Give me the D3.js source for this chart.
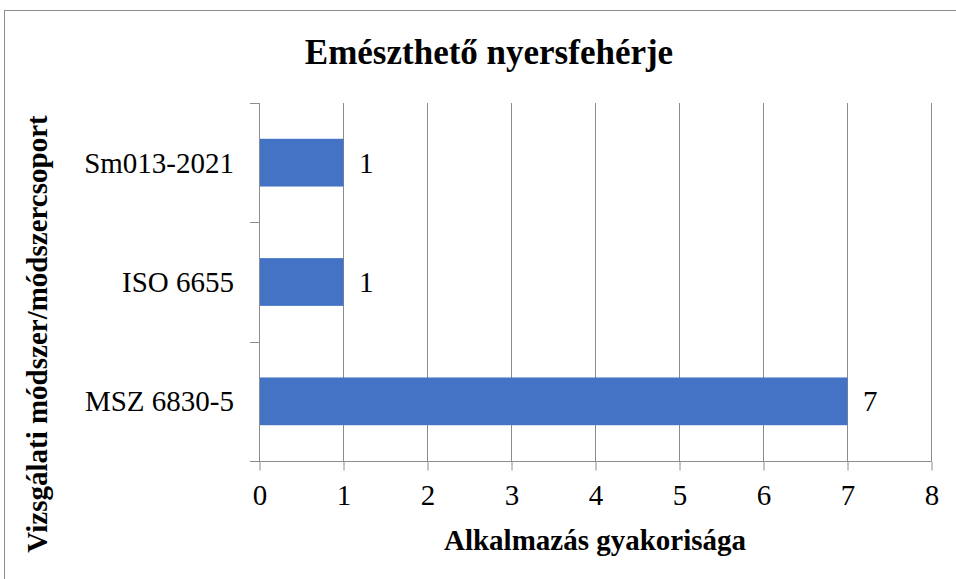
<!DOCTYPE html>
<html>
<head>
<meta charset="utf-8">
<script src="https://cdn.jsdelivr.net/npm/d3@7"></script>
<style>
  body { margin: 0; background: #fff; }
  svg text { font-family: "Liberation Serif", "Times New Roman", serif; }
</style>
</head>
<body>
<div id="chart"></div>
<script>
// Categories listed bottom-to-top as in the source (Excel reverses order)
const categories = ['MSZ 6830-5', 'ISO 6655', 'Sm013-2021'];
const counts = [7, 1, 1];
const xTicks = [0, 1, 2, 3, 4, 5, 6, 7, 8];

const width = 956, height = 579;
const plot = { left: 259, right: 931, top: 103, bottom: 461 };

const svg = d3.select('#chart').append('svg')
  .attr('width', width)
  .attr('height', height);

// Outer chart border (only left/top edges fall inside the picture)
svg.append('rect')
  .attr('x', 4.5).attr('y', 10.5)
  .attr('width', 1000).attr('height', 1000)
  .attr('fill', 'none')
  .attr('stroke', '#8c8c8c');

const x = d3.scaleLinear().domain([0, 8]).range([plot.left, plot.right]);
// top-to-bottom order: reverse the list
const y = d3.scaleBand()
  .domain(categories.slice().reverse())
  .range([plot.top, plot.bottom])
  .paddingInner(0.6)
  .paddingOuter(0.3);

// vertical gridlines
svg.append('g')
  .selectAll('line')
  .data(xTicks.filter(d => d > 0))
  .join('line')
  .attr('x1', d => x(d) + 0.5).attr('x2', d => x(d) + 0.5)
  .attr('y1', plot.top).attr('y2', plot.bottom)
  .attr('stroke', '#8c8c8c');

// bars
svg.append('g')
  .selectAll('rect')
  .data(categories)
  .join('rect')
  .attr('x', x(0) + 0.5)
  .attr('y', d => y(d))
  .attr('width', (d, i) => x(counts[i]) - x(0))
  .attr('height', y.bandwidth())
  .attr('fill', '#4472c4');

// data labels
svg.append('g')
  .selectAll('text')
  .data(categories)
  .join('text')
  .attr('x', (d, i) => x(counts[i]) + 16)
  .attr('y', d => y(d) + y.bandwidth() / 2)
  .attr('dy', '0.35em')
  .attr('font-size', 29)
  .text((d, i) => counts[i]);

// x axis
const xAxis = svg.append('g')
  .attr('transform', `translate(0.5,${plot.bottom + 0.5})`)
  .call(d3.axisBottom(x).tickValues(xTicks).tickSize(9).tickPadding(14));
xAxis.attr('font-family', null);
xAxis.select('.domain').attr('d', `M${plot.left - 9 - 0.5},0H${plot.right}`);
xAxis.selectAll('line, path').attr('stroke', '#8c8c8c');
xAxis.selectAll('text').attr('font-size', 29).attr('fill', '#000');

// y axis: ticks at band boundaries
const step = (plot.bottom - plot.top) / categories.length;
const yAxisG = svg.append('g');
yAxisG.append('line')
  .attr('x1', plot.left + 0.5).attr('x2', plot.left + 0.5)
  .attr('y1', plot.top).attr('y2', plot.bottom)
  .attr('stroke', '#8c8c8c');
yAxisG.selectAll('.ytick')
  .data(d3.range(categories.length + 1))
  .join('line')
  .attr('class', 'ytick')
  .attr('x1', plot.left - 9).attr('x2', plot.left + 0.5)
  .attr('y1', i => Math.round(plot.top + i * step) + 0.5)
  .attr('y2', i => Math.round(plot.top + i * step) + 0.5)
  .attr('stroke', '#8c8c8c');
yAxisG.selectAll('.ylabel')
  .data(categories)
  .join('text')
  .attr('class', 'ylabel')
  .attr('x', plot.left - 25)
  .attr('y', d => y(d) + y.bandwidth() / 2)
  .attr('dy', '0.35em')
  .attr('text-anchor', 'end')
  .attr('font-size', 29)
  .text(d => d);

// titles
svg.append('text')
  .attr('x', 489).attr('y', 64)
  .attr('text-anchor', 'middle')
  .attr('font-size', 35)
  .attr('font-weight', 'bold')
  .text('Emészthető nyersfehérje');

svg.append('text')
  .attr('x', 595).attr('y', 550)
  .attr('text-anchor', 'middle')
  .attr('font-size', 29)
  .attr('font-weight', 'bold')
  .text('Alkalmazás gyakorisága');

svg.append('text')
  .attr('transform', 'translate(47,334) rotate(-90)')
  .attr('text-anchor', 'middle')
  .attr('font-size', 29)
  .attr('font-weight', 'bold')
  .text('Vizsgálati módszer/módszercsoport');
</script>
</body>
</html>
